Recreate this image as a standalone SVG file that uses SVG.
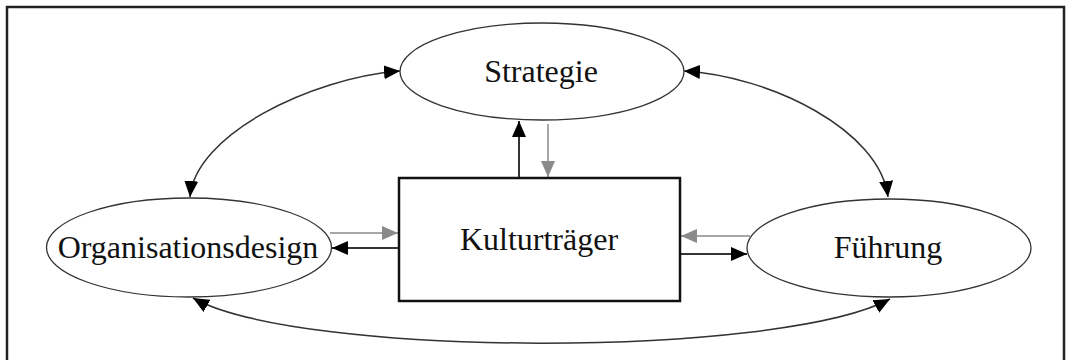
<svg xmlns="http://www.w3.org/2000/svg" width="1066" height="360" viewBox="0 0 1066 360">
  <style>
    .node { fill: #ffffff; stroke: #333333; stroke-width: 1.3; }
    .box { fill: #ffffff; stroke: #111111; stroke-width: 2.5; }
    .label { font-family: "Liberation Serif", "Times New Roman", serif; font-size: 32px; fill: #111111; text-anchor: middle; }
    .curve { fill: none; stroke: #333333; stroke-width: 1.5; }
    .dark { fill: none; stroke: #333333; stroke-width: 2; }
    .grey { fill: none; stroke: #8a8a8a; stroke-width: 1.5; }
  </style>
  <defs>
    <marker id="headDark" markerUnits="userSpaceOnUse" markerWidth="16" markerHeight="14" refX="16" refY="7" orient="auto-start-reverse">
      <path d="M0,0 L16,7 L0,14 z" fill="#000000"/>
    </marker>
    <marker id="headGrey" markerUnits="userSpaceOnUse" markerWidth="16" markerHeight="14" refX="16" refY="7" orient="auto-start-reverse">
      <path d="M0,0 L16,7 L0,14 z" fill="#8a8a8a"/>
    </marker>
  </defs>

  <!-- outer frame (bottom edge runs off the canvas) -->
  <rect x="7" y="7" width="1057" height="370" fill="#ffffff" stroke="#222222" stroke-width="2.5"/>

  <g id="connectors">
    <!-- curved two-way links between the outer nodes -->
    <path class="curve" d="M190,197 C195,135 310,78 400,71" marker-start="url(#headDark)" marker-end="url(#headDark)"/>
    <path class="curve" d="M684,71 C770,76 880,130 888,197" marker-start="url(#headDark)" marker-end="url(#headDark)"/>
    <path class="curve" d="M193,298 C300,358 780,358 890,299" marker-start="url(#headDark)" marker-end="url(#headDark)"/>

    <!-- Kulturträger <-> Strategie -->
    <line class="dark" x1="519" y1="177" x2="519" y2="121" marker-end="url(#headDark)"/>
    <line class="grey" x1="548" y1="124" x2="548" y2="177" marker-end="url(#headGrey)"/>

    <!-- Kulturträger <-> Organisationsdesign -->
    <line class="grey" x1="330" y1="233" x2="398" y2="233" marker-end="url(#headGrey)"/>
    <line class="dark" x1="398" y1="248" x2="332" y2="248" marker-end="url(#headDark)"/>

    <!-- Kulturträger <-> Führung -->
    <line class="grey" x1="750" y1="236" x2="681" y2="236" marker-end="url(#headGrey)"/>
    <line class="dark" x1="681" y1="254" x2="747" y2="254" marker-end="url(#headDark)"/>
  </g>

  <g id="strategie">
    <ellipse class="node" cx="542" cy="71.5" rx="142" ry="48.5"/>
    <text class="label" x="541" y="82">Strategie</text>
  </g>

  <g id="kulturtraeger">
    <rect class="box" x="399" y="178" width="281" height="123"/>
    <text class="label" x="539" y="250">Kulturträger</text>
  </g>

  <g id="organisationsdesign">
    <ellipse class="node" cx="189" cy="247.5" rx="142.5" ry="49.5"/>
    <text class="label" x="188" y="258">Organisationsdesign</text>
  </g>

  <g id="fuehrung">
    <ellipse class="node" cx="889" cy="248" rx="142" ry="49"/>
    <text class="label" x="888" y="258">Führung</text>
  </g>
</svg>
